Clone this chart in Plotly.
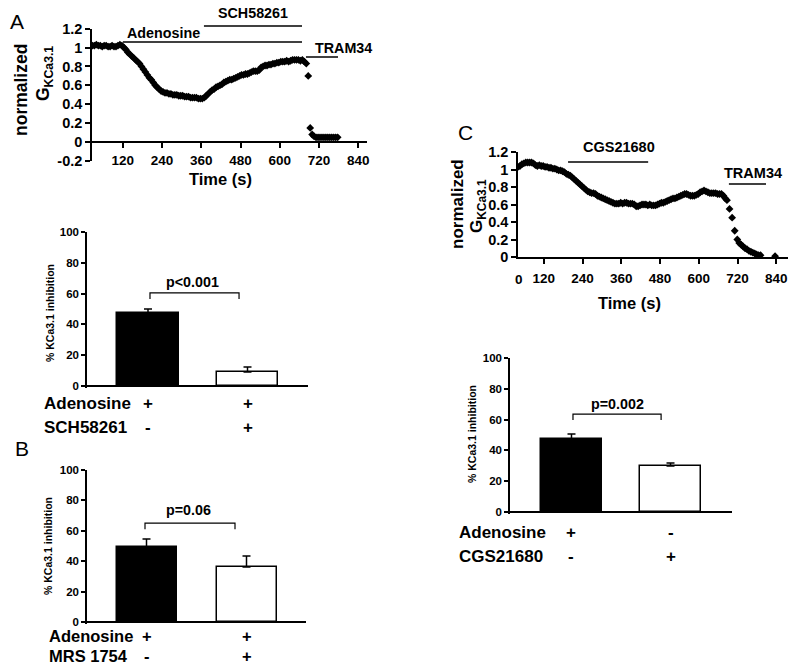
import plotly.graph_objects as go

W, H = 800, 667
FONT = "Liberation Sans, Arial, Helvetica, sans-serif"


def fx(px):
    return px / W


def fy(py):
    return 1 - py / H


# ---------------- Panel A: time course (normalized G_KCa3.1) ----------------
a_time = [
    27, 33, 39, 45, 51, 57, 63, 69, 75, 81,
    87, 93, 99, 105, 111, 117, 123, 129, 135, 141,
    147, 153, 159, 165, 171, 177, 183, 189, 195, 201,
    207, 213, 219, 225, 231, 237, 243, 249, 255, 261,
    267, 273, 279, 285, 291, 297, 303, 309, 315, 321,
    327, 333, 339, 345, 351, 357, 363, 369, 375, 381,
    387, 393, 399, 405, 411, 417, 423, 429, 435, 441,
    447, 453, 459, 465, 471, 477, 483, 489, 495, 501,
    507, 513, 519, 525, 531, 537, 543, 549, 555, 561,
    567, 573, 579, 585, 591, 597, 603, 609, 615, 621,
    627, 633, 639, 645, 651, 657, 663, 669, 675, 681,
    687, 693, 699, 705, 711, 717, 723, 729, 735, 741,
    747, 753, 759, 765, 771, 777,
]
a_gkca = [
    1.02, 1.02, 1.03, 1.02, 1.02, 1.01, 1.02, 1.02, 1.01, 1.01,
    1.02, 1.01, 1.01, 1.02, 1.03, 1.02, 1.00, 0.98, 0.95, 0.93,
    0.91, 0.89, 0.87, 0.85, 0.83, 0.80, 0.77, 0.74, 0.71, 0.68,
    0.66, 0.63, 0.60, 0.58, 0.56, 0.54, 0.53, 0.52, 0.52, 0.51,
    0.51, 0.50, 0.50, 0.50, 0.49, 0.49, 0.49, 0.48, 0.48, 0.48,
    0.47, 0.47, 0.47, 0.47, 0.46, 0.46, 0.46, 0.47, 0.49, 0.51,
    0.53, 0.55, 0.56, 0.58, 0.59, 0.60, 0.61, 0.63, 0.64, 0.65,
    0.66, 0.66, 0.67, 0.68, 0.69, 0.70, 0.71, 0.71, 0.72, 0.72,
    0.73, 0.74, 0.75, 0.75, 0.75, 0.76, 0.79, 0.80, 0.81, 0.81,
    0.82, 0.82, 0.83, 0.83, 0.84, 0.84, 0.85, 0.85, 0.85, 0.86,
    0.85, 0.86, 0.87, 0.87, 0.87, 0.87, 0.86, 0.87, 0.85, 0.83,
    0.70, 0.15, 0.08, 0.06, 0.05, 0.05, 0.05, 0.05, 0.05, 0.05,
    0.05, 0.05, 0.05, 0.05, 0.05, 0.05,
]
# drug application periods (s)
a_drugs = ["Adenosine", "SCH58261", "TRAM34"]
a_drug_start = [120, 368, 680]
a_drug_end = [668, 668, 778]

# ---------------- Panel C: time course ----------------
c_time = [
    40, 46, 52, 58, 64, 70, 76, 82, 88, 94,
    100, 106, 112, 118, 124, 130, 136, 142, 148, 154,
    160, 166, 172, 178, 184, 190, 196, 202, 208, 214,
    220, 226, 232, 238, 244, 250, 256, 262, 268, 274,
    280, 286, 292, 298, 304, 310, 316, 322, 328, 334,
    340, 346, 352, 358, 364, 370, 376, 382, 388, 394,
    400, 406, 412, 418, 424, 430, 436, 442, 448, 454,
    460, 466, 472, 478, 484, 490, 496, 502, 508, 514,
    520, 526, 532, 538, 544, 550, 556, 562, 568, 574,
    580, 586, 592, 598, 604, 610, 616, 622, 628, 634,
    640, 646, 652, 658, 664, 670, 676, 682,
    687, 695, 703, 711, 719, 725, 731, 737, 743, 749,
    755, 761, 767, 773, 779, 785, 791, 836,
]
c_gkca = [
    1.03, 1.04, 1.06, 1.07, 1.08, 1.08, 1.08, 1.08, 1.07, 1.05,
    1.04, 1.05, 1.04, 1.04, 1.03, 1.03, 1.02, 1.02, 1.01, 1.01,
    1.00, 0.99, 0.99, 0.98, 0.97, 0.95, 0.94, 0.93, 0.91, 0.89,
    0.87, 0.85, 0.83, 0.81, 0.79, 0.77, 0.75, 0.74, 0.73, 0.73,
    0.72, 0.70, 0.69, 0.68, 0.67, 0.66, 0.65, 0.64, 0.63, 0.62,
    0.61, 0.61, 0.61, 0.62, 0.61, 0.62, 0.62, 0.61, 0.61, 0.61,
    0.60, 0.58, 0.58, 0.59, 0.60, 0.60, 0.60, 0.59, 0.60, 0.59,
    0.59, 0.59, 0.60, 0.61, 0.62, 0.62, 0.63, 0.64, 0.65, 0.66,
    0.67, 0.67, 0.68, 0.69, 0.70, 0.71, 0.72, 0.72, 0.71, 0.70,
    0.70, 0.70, 0.71, 0.72, 0.74, 0.75, 0.76, 0.75, 0.74, 0.73,
    0.73, 0.73, 0.73, 0.72, 0.72, 0.72, 0.70, 0.67,
    0.65, 0.55, 0.45, 0.30, 0.20, 0.16, 0.14, 0.12, 0.10, 0.09,
    0.07, 0.06, 0.05, 0.04, 0.03, 0.02, 0.02, 0.01,
]
c_drugs = ["CGS21680", "TRAM34"]
c_drug_start = [195, 693]
c_drug_end = [443, 808]
c_drug_level = [1.086, 0.834]

# ---------------- Bar charts: % KCa3.1 inhibition ----------------
bar_pos = [0, 1]
a_bar_mean = [47.4, 9.1]
a_bar_sem = [2.6, 3.2]
a_rows = ["Adenosine", "SCH58261"]
a_signs = [["+", "+"], ["-", "+"]]
a_p = "p<0.001"

b_bar_mean = [49.3, 36.2]
b_bar_sem = [5.3, 7.2]
b_rows = ["Adenosine", "MRS 1754"]
b_signs = [["+", "+"], ["-", "+"]]
b_p = "p=0.06"

c_bar_mean = [47.4, 29.9]
c_bar_sem = [3.2, 1.9]
c_rows = ["Adenosine", "CGS21680"]
c_signs = [["+", "-"], ["-", "+"]]
c_p = "p=0.002"

bar_colors = ["black", "white"]

fig = go.Figure()

# time-course traces
fig.add_trace(go.Scatter(x=a_time, y=a_gkca, mode="markers", xaxis="x", yaxis="y",
                         marker=dict(symbol="diamond", size=6, color="black"),
                         showlegend=False, hoverinfo="skip"))
fig.add_trace(go.Scatter(x=c_time, y=c_gkca, mode="markers", xaxis="x4", yaxis="y4",
                         marker=dict(symbol="diamond", size=6, color="black"),
                         showlegend=False, hoverinfo="skip"))


def add_bars(means, sems, xa, ya, width):
    fig.add_trace(go.Bar(
        x=bar_pos, y=means, width=width, xaxis=xa, yaxis=ya,
        marker=dict(color=bar_colors, line=dict(color="black", width=1.5)),
        error_y=dict(type="data", array=sems, arrayminus=[0, 0], symmetric=False,
                     color="black", thickness=1.5, width=4),
        showlegend=False, hoverinfo="skip"))


add_bars(a_bar_mean, a_bar_sem, "x2", "y2", 0.62)
add_bars(b_bar_mean, b_bar_sem, "x3", "y3", 0.60)
add_bars(c_bar_mean, c_bar_sem, "x5", "y5", 0.62)

tick_font = dict(family=FONT, size=13.5, color="black", weight="bold")
ytick_font = dict(family=FONT, size=14.5, color="black", weight="bold")
bar_tick_font = dict(family=FONT, size=11.5, color="black", weight="bold")

axis_common = dict(showgrid=False, zeroline=False, showline=True, linecolor="black",
                   linewidth=1.5, tickcolor="black", tickwidth=1.5, automargin=False)
bar_x_common = dict(showgrid=False, zeroline=False, showline=False,
                    showticklabels=False, ticks="", automargin=False)
bar_y_common = dict(showgrid=False, showline=True, linecolor="black", linewidth=1.5,
                    tickcolor="black", tickwidth=1.5, automargin=False,
                    zeroline=True, zerolinecolor="black", zerolinewidth=1.5,
                    tickvals=[0, 20, 40, 60, 80, 100], ticks="outside", ticklen=4,
                    tickfont=bar_tick_font)

trace_yvals = [-0.2, 0, 0.2, 0.4, 0.6, 0.8, 1.0, 1.2]
trace_ytext = ["-0.2", "0", "0.2", "0.4", "0.6", "0.8", "1", "1.2"]

# bar y range starts slightly below 0 so the bar outlines merge with the base line
BAR_Y0 = -1.0

fig.update_layout(
    width=W, height=H, autosize=False,
    margin=dict(l=0, r=0, t=0, b=0, pad=0, autoexpand=False),
    paper_bgcolor="white", plot_bgcolor="white",
    font=dict(family=FONT, color="black"),
    bargap=0,
    xaxis=dict(domain=[fx(91), fx(367)], range=[22.6, 866.7], anchor="free",
               position=fy(142), ticks="outside", ticklen=5, dtick=120, tick0=0,
               tickfont=tick_font, ticklabelstandoff=1, **axis_common),
    yaxis=dict(domain=[fy(161), fy(28.6)], range=[-0.2, 1.2], anchor="free",
               position=fx(91), ticks="outside", ticklen=5, tickvals=trace_yvals,
               ticktext=trace_ytext, tickfont=ytick_font, **axis_common),
    xaxis4=dict(domain=[fx(518), fx(788)], range=[40, 876], anchor="y4",
                ticks="outside", ticklen=5, dtick=120, tick0=0,
                tickfont=tick_font, ticklabelstandoff=3, **axis_common),
    yaxis4=dict(domain=[fy(257), fy(152)], range=[0, 1.2], anchor="x4",
                ticks="outside", ticklen=5, tickvals=trace_yvals[1:],
                ticktext=trace_ytext[1:], tickfont=ytick_font, **axis_common),
    xaxis2=dict(domain=[fx(87), fx(308)], range=[-0.613, 1.608], anchor="y2",
                **bar_x_common),
    yaxis2=dict(domain=[fy(387.5), fy(232)], range=[BAR_Y0, 100], anchor="x2",
                **bar_y_common),
    xaxis3=dict(domain=[fx(87), fx(306)], range=[-0.595, 1.595], anchor="y3",
                **bar_x_common),
    yaxis3=dict(domain=[fy(623.5), fy(470)], range=[BAR_Y0, 100], anchor="x3",
                **bar_y_common),
    xaxis5=dict(domain=[fx(510), fx(732)], range=[-0.621, 1.621], anchor="y5",
                **bar_x_common),
    yaxis5=dict(domain=[fy(513.5), fy(358)], range=[BAR_Y0, 100], anchor="x5",
                **bar_y_common),
)

shapes = []
annotations = []


def ann(text, x, y, size, xref="paper", yref="paper", xanchor="center", angle=0,
        bold=True):
    annotations.append(dict(
        text=text, x=x, y=y, xref=xref, yref=yref, xanchor=xanchor, yanchor="middle",
        showarrow=False, textangle=angle,
        font=dict(family=FONT, size=size, color="black",
                  weight="bold" if bold else "normal")))


# Panel letters
ann("A", fx(17), fy(22), 21, bold=False)
ann("B", fx(22), fy(448), 21, bold=False)
ann("C", fx(465), fy(132), 21, bold=False)

# Axis titles of traces
ann("normalized", fx(21), fy(90), 17.5, angle=-90)
ann("G<sub>KCa3.1</sub>", fx(44), fy(74), 17.5, angle=-90)
ann("Time (s)", fx(220), fy(179), 16.5)
ann("normalized", fx(457), fy(204), 17, angle=-90)
ann("G<sub>KCa3.1</sub>", fx(478), fy(206), 17, angle=-90)
ann("Time (s)", fx(629), fy(303), 16.5)
ann("0", fx(519), fy(279), 13.5)

# Drug bars on trace A
a_line_y = [42, 26, 57]
a_text_xy = [(163, 33), (253, 13), (343, 48)]
for name, s, e, ly, (tx, ty) in zip(a_drugs, a_drug_start, a_drug_end, a_line_y, a_text_xy):
    shapes.append(dict(type="line", xref="x", yref="paper", x0=s, x1=e,
                       y0=fy(ly), y1=fy(ly), line=dict(color="black", width=1.5)))
    ann(name, fx(tx), fy(ty), 14.3)

# Drug bars on trace C
c_text_xy = [(619, 147), (753, 173)]
for name, s, e, lv, (tx, ty) in zip(c_drugs, c_drug_start, c_drug_end, c_drug_level, c_text_xy):
    shapes.append(dict(type="line", xref="x4", yref="y4", x0=s, x1=e,
                       y0=lv, y1=lv, line=dict(color="black", width=1.5)))
    ann(name, fx(tx), fy(ty), 14.5)

# Bar-chart y titles
ann("% KCa3.1 inhibition", fx(50), fy(313), 10.5, angle=-90)
ann("% KCa3.1 inhibition", fx(48), fy(546), 10.5, angle=-90)
ann("% KCa3.1 inhibition", fx(472), fy(434), 10.5, angle=-90)


def bracket(xa, ya, x0, x1, ytop, ybot, ptext, px, py):
    shapes.append(dict(type="path", xref=xa, yref=ya,
                       path=f"M {x0},{ybot} L {x0},{ytop} L {x1},{ytop} L {x1},{ybot}",
                       line=dict(color="black", width=1.2)))
    ann(ptext, px, py, 14.3, xref=xa, yref=ya)


bracket("x2", "y2", 0.02, 0.915, 60.4, 56.5, a_p, 0.45, 67.5)
bracket("x3", "y3", -0.015, 0.885, 65, 61, b_p, 0.415, 74)
bracket("x5", "y5", 0.015, 0.905, 63.6, 59.7, c_p, 0.46, 70)


def condition_rows(rows, signs, xa, left_px, rows_py, size=17):
    for name, sg, py in zip(rows, signs, rows_py):
        ann(name, fx(left_px), fy(py), size, xanchor="left")
        for xi, s in zip(bar_pos, sg):
            ann(s, xi, fy(py), size, xref=xa)


condition_rows(a_rows, a_signs, "x2", 42, [403, 427])
condition_rows(b_rows, b_signs, "x3", 47, [636, 656], size=16.5)
condition_rows(c_rows, c_signs, "x5", 457, [532, 556])

fig.update_layout(shapes=shapes, annotations=annotations)

fig.write_html("out.html", config={"displayModeBar": False},
               post_script="document.body.style.margin='0px';")
